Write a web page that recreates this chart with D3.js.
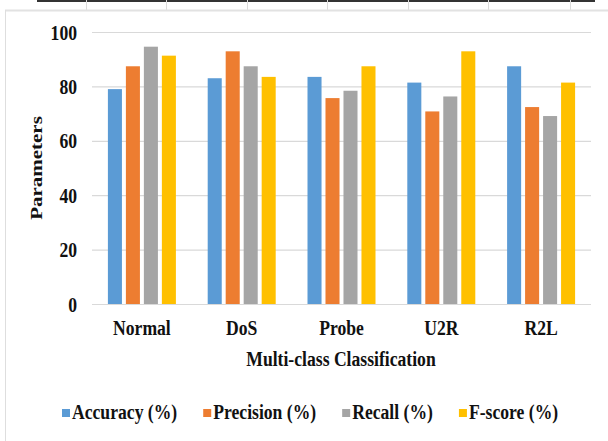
<!DOCTYPE html>
<html>
<head>
<meta charset="utf-8">
<script src="https://cdn.jsdelivr.net/npm/d3@7"></script>
<style>
  html, body { margin: 0; padding: 0; background: #fff; }
  svg { display: block; }
</style>
</head>
<body>
<svg id="chart" width="608" height="441"></svg>
<script>
// Per-class scores of the multi-class classifier
const categories = ["Normal", "DoS", "Probe", "U2R", "R2L"];
const seriesNames = ["Accuracy (%)", "Precision (%)", "Recall (%)", "F-score (%)"];
const accuracy  = [79.0, 83.0, 83.5, 81.4, 87.4];
const precision = [87.4, 92.9, 75.7, 70.8, 72.4];
const recall    = [94.6, 87.4, 78.4, 76.3, 69.1];
const fscore    = [91.3, 83.5, 87.4, 92.9, 81.4];
const yTicks    = [0, 20, 40, 60, 80, 100];
const colors    = ["#5B9BD5", "#ED7D31", "#A5A5A5", "#FFC000"];

const seriesValues = [accuracy, precision, recall, fscore];
const rows = categories.map((c, i) => ({
  category: c,
  values: seriesNames.map((s, k) => ({ series: s, value: seriesValues[k][i], color: colors[k] }))
}));

const FONT = "Liberation Serif";
const SX = 0.84;          // horizontal squeeze of the serif lettering
const FS = 21;

const svg = d3.select("#chart");

// Apply the serif face to a text selection
function serif(sel) {
  sel.attr("font-family", FONT).attr("font-weight", "bold").attr("font-size", FS)
     .attr("fill", "#111")
     .style("font-family", FONT).style("font-weight", "bold");
  return sel;
}

// Frame of the sheet: top ruler, thin panel border
const frame = svg.append("g");
frame.append("line").attr("x1", 37).attr("x2", 595).attr("y1", 1).attr("y2", 1)
  .attr("stroke", "#333").attr("stroke-width", 2);
[86, 166, 247, 327, 408, 488, 570].forEach(x => {
  frame.append("line").attr("x1", x + 0.5).attr("x2", x + 0.5).attr("y1", 0).attr("y2", 10)
    .attr("stroke", "#dcdcdc").attr("stroke-width", 1);
});
frame.append("line").attr("x1", 5).attr("x2", 608).attr("y1", 10.5).attr("y2", 10.5)
  .attr("stroke", "#e2e2e2").attr("stroke-width", 2);
frame.append("line").attr("x1", 5.5).attr("x2", 5.5).attr("y1", 10).attr("y2", 441)
  .attr("stroke", "#dedede").attr("stroke-width", 1);

// Scales
const x0 = d3.scaleBand().domain(categories).range([92, 591]).padding(0);
const groupW = 68;
const x1 = d3.scaleBand().domain(seriesNames)
  .range([(x0.bandwidth() - groupW) / 2, (x0.bandwidth() + groupW) / 2])
  .paddingInner(0.22).paddingOuter(0);
const y = d3.scaleLinear().domain([0, 100]).range([304, 32]);

// Horizontal gridlines
svg.append("g")
  .attr("transform", "translate(92,0)")
  .call(d3.axisLeft(y).tickValues(yTicks).tickSize(-499).tickFormat(""))
  .call(g => g.select(".domain").remove())
  .call(g => g.selectAll(".tick line").attr("stroke", "#d9d9d9").attr("stroke-width", 1.2));

// Y tick labels
svg.append("g")
  .attr("transform", "translate(92,0)")
  .call(d3.axisLeft(y).tickValues(yTicks).tickSize(0).tickPadding(0).tickFormat(d3.format("d")))
  .call(g => g.select(".domain").remove())
  .call(g => serif(g.selectAll(".tick text"))
    .attr("x", -15 / SX).attr("dy", "0.34em")
    .attr("transform", `scale(${SX},1)`));

// Bars
const groups = svg.append("g").selectAll("g")
  .data(rows).join("g")
  .attr("transform", d => `translate(${x0(d.category)},0)`);
groups.selectAll("rect")
  .data(d => d.values).join("rect")
  .attr("x", d => x1(d.series))
  .attr("width", x1.bandwidth())
  .attr("y", d => y(d.value))
  .attr("height", d => y(0) - y(d.value))
  .attr("fill", d => d.color);

// X axis line and category labels
svg.append("g")
  .attr("transform", "translate(0,304)")
  .call(d3.axisBottom(x0).tickSize(0).tickPadding(0))
  .call(g => g.select(".domain").attr("stroke", "#d9d9d9").attr("stroke-width", 1.2).attr("d", "M92,0.5H591"))
  .call(g => serif(g.selectAll(".tick text"))
    .attr("y", 31).attr("dy", null)
    .attr("transform", `scale(${SX},1)`));

// Axis titles
serif(svg.append("text"))
  .attr("transform", `translate(341,366) scale(${SX},1)`)
  .attr("text-anchor", "middle")
  .text("Multi-class Classification");
serif(svg.append("text"))
  .attr("transform", `translate(42,168) rotate(-90) scale(1,${SX})`)
  .attr("text-anchor", "middle")
  .text("Parameters");

// Legend
const legend = svg.append("g");
let lx = 62;
seriesNames.forEach((name, k) => {
  legend.append("rect").attr("x", lx).attr("y", 409).attr("width", 8).attr("height", 8)
    .attr("fill", colors[k]);
  const t = serif(legend.append("text"))
    .attr("transform", `translate(${lx + 10},419) scale(${SX},1)`)
    .text(name);
  const w = t.node().getComputedTextLength() * SX;
  lx += 10 + w + 26;
});
</script>
</body>
</html>
